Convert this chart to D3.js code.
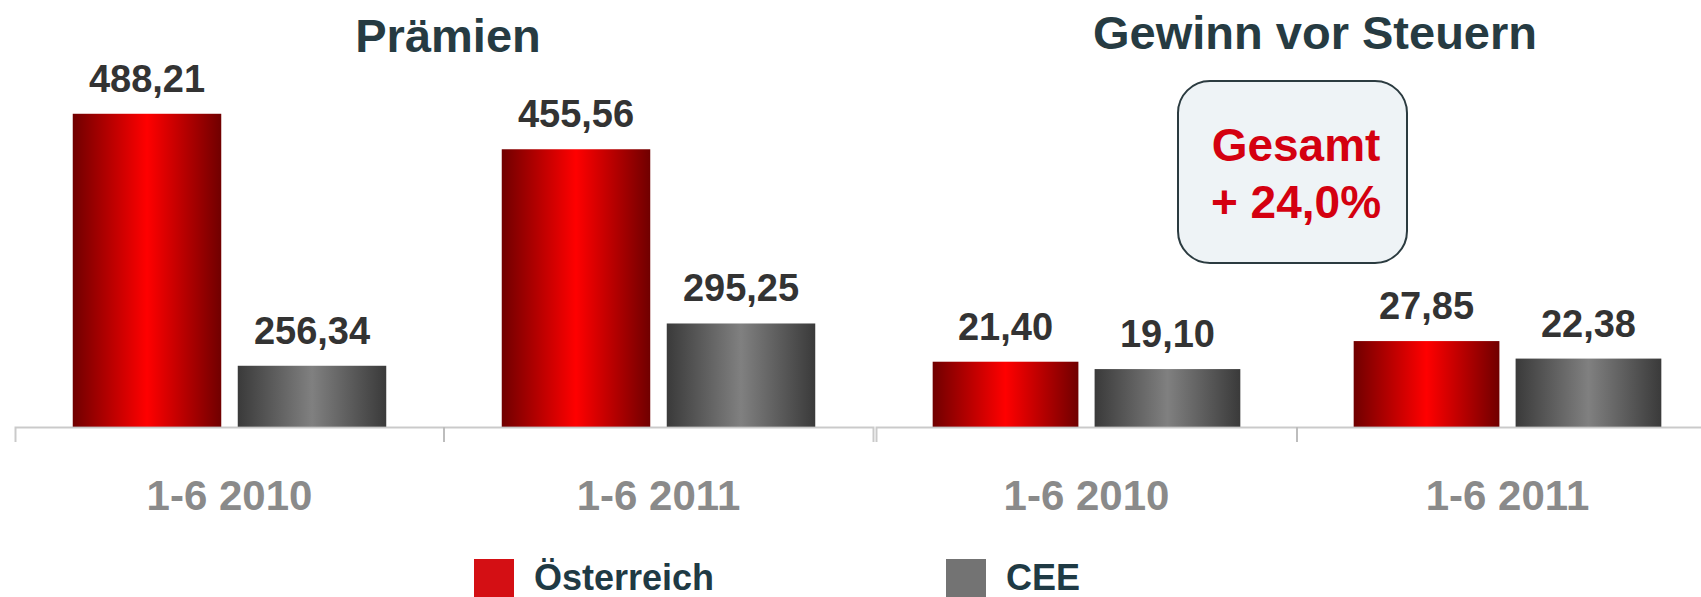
<!DOCTYPE html>
<html>
<head>
<meta charset="utf-8">
<script src="https://cdn.jsdelivr.net/npm/d3@7"></script>
<style>
  body { margin: 0; background: #fff; }
  svg { display: block; font-family: "Liberation Sans", Arial, sans-serif; font-weight: bold; }
</style>
</head>
<body>
<svg id="chart" width="1701" height="597"></svg>
<script>
// data
var categories = ['1-6 2010', '1-6 2011'];
var seriesNames = ['Österreich', 'CEE'];
var praemienOesterreich = [488.21, 455.56];
var praemienCEE = [256.34, 295.25];
var gewinnOesterreich = [21.40, 27.85];
var gewinnCEE = [19.10, 22.38];
var titles = ['Prämien', 'Gewinn vor Steuern'];
var boxLines = ['Gesamt', '+ 24,0%'];

var svg = d3.select('#chart');
var de = d3.formatLocale({decimal: ',', thousands: '.', grouping: [3], currency: ['', ' €']});
var fmt = de.format('.2f');

var baseY = 427;

// gradients for the bars
var defs = svg.append('defs');
function grad(id, edge, mid) {
  var g = defs.append('linearGradient').attr('id', id)
    .attr('x1', '0%').attr('x2', '100%').attr('y1', '0%').attr('y2', '0%');
  g.append('stop').attr('offset', '0%').attr('stop-color', edge);
  g.append('stop').attr('offset', '50%').attr('stop-color', mid);
  g.append('stop').attr('offset', '100%').attr('stop-color', edge);
}
grad('gRed', '#700000', '#ff0000');
grad('gGray', '#3a3a3a', '#808080');
var fills = ['url(#gRed)', 'url(#gGray)'];
var legendColors = ['#d40f14', '#737373'];

var panels = [
  {title: titles[0], a: praemienOesterreich, b: praemienCEE, x: [15, 873], dom: [200, 500], pxPerUnit: 1.0868, titleX: 448, titleY: 52},
  {title: titles[1], a: gewinnOesterreich, b: gewinnCEE, x: [876, 1718], dom: [1, 30], pxPerUnit: 3.2, titleX: 1315, titleY: 49}
];

panels.forEach(function(p) {
  var g = svg.append('g');
  var x0 = d3.scaleBand().domain(categories).range(p.x).padding(0);
  var x1 = d3.scaleBand().domain(seriesNames).range([0, x0.bandwidth()])
    .paddingInner(0.1).paddingOuter(0.35);
  var y = d3.scaleLinear().domain(p.dom)
    .range([baseY, baseY - (p.dom[1] - p.dom[0]) * p.pxPerUnit]);

  var rows = categories.map(function(c, i) {
    return {cat: c, vals: [p.a[i], p.b[i]]};
  });

  var grp = g.selectAll('.grp').data(rows).enter().append('g')
    .attr('transform', function(d) { return 'translate(' + x0(d.cat) + ',0)'; });

  grp.selectAll('rect').data(function(d) { return d.vals; }).enter().append('rect')
    .attr('x', function(d, i) { return x1(seriesNames[i]); })
    .attr('y', function(d) { return y(d); })
    .attr('width', x1.bandwidth())
    .attr('height', function(d) { return baseY - y(d); })
    .attr('fill', function(d, i) { return fills[i]; });

  grp.selectAll('text.val').data(function(d) { return d.vals; }).enter().append('text')
    .attr('class', 'val')
    .attr('x', function(d, i) { return x1(seriesNames[i]) + x1.bandwidth() / 2; })
    .attr('y', function(d) { return y(d) - 22; })
    .attr('text-anchor', 'middle')
    .style('font-size', '38px')
    .style('fill', '#333333')
    .text(function(d) { return fmt(d); });

  // axis
  var ax = g.append('g').attr('transform', 'translate(0,' + baseY + ')')
    .call(d3.axisBottom(x0).tickSizeInner(0).tickSizeOuter(15).tickPadding(53));
  ax.select('.domain').attr('stroke', '#bdbdbd').attr('stroke-width', 2).attr('stroke-opacity', 0.8);
  ax.selectAll('text').style('font-size', '42px').style('font-family', '"Liberation Sans", Arial, sans-serif')
    .style('font-weight', 'bold').attr('fill', '#8a8a8a');
  ax.append('line')
    .attr('x1', x0(categories[1])).attr('x2', x0(categories[1]))
    .attr('y1', 0).attr('y2', 15)
    .attr('stroke', '#bdbdbd').attr('stroke-width', 2);

  svg.append('text')
    .attr('x', p.titleX).attr('y', p.titleY)
    .attr('text-anchor', 'middle')
    .style('font-size', '47px')
    .style('fill', '#263b42')
    .text(p.title);
});

// Gesamt box
svg.append('rect')
  .attr('x', 1178).attr('y', 81).attr('width', 229).attr('height', 182)
  .attr('rx', 32).attr('ry', 32)
  .attr('fill', '#eef3f6').attr('stroke', '#2b3b40').attr('stroke-width', 2);
svg.selectAll('.boxline').data(boxLines).enter().append('text')
  .attr('x', 1296)
  .attr('y', function(d, i) { return 161 + i * 57; })
  .attr('text-anchor', 'middle')
  .style('font-size', '46px')
  .style('fill', '#d40010')
  .text(function(d) { return d; });

// legend
var legendX = [474, 946];
var lg = svg.selectAll('.legend').data(seriesNames).enter().append('g')
  .attr('transform', function(d, i) { return 'translate(' + legendX[i] + ',559)'; });
lg.append('rect').attr('width', 40).attr('height', 38)
  .attr('fill', function(d, i) { return legendColors[i]; });
lg.append('text').attr('x', 60).attr('y', 31)
  .style('font-size', '36px').style('fill', '#1f3a44')
  .text(function(d) { return d; });
</script>
</body>
</html>
